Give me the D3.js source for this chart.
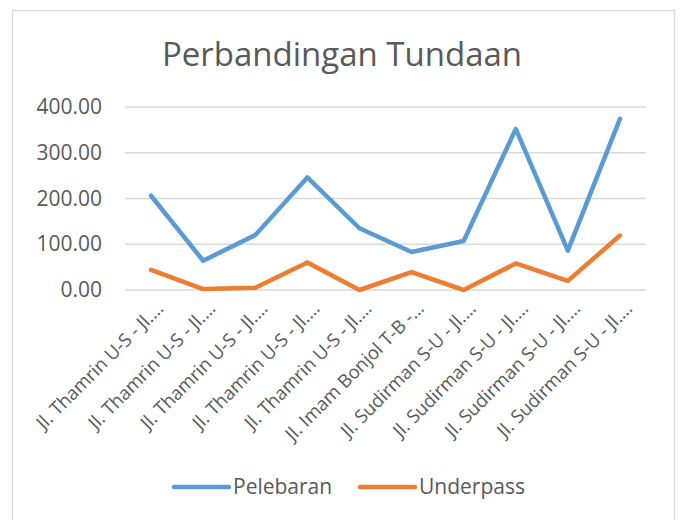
<!DOCTYPE html>
<html lang="id">
<head>
<meta charset="utf-8">
<title>Perbandingan Tundaan</title>
<script src="https://d3js.org/d3.v7.min.js"></script>
<style>
	body { margin: 0; background: #fff; }
	svg { display: block; font-family: "Open Sans", sans-serif; }
	.grid line { stroke: #d9d9d9; stroke-width: 1.3px; }
	.line { fill: none; stroke-width: 4.5px; stroke-linecap: round; stroke-linejoin: round; }
</style>
</head>
<body>
<svg id="chart" width="680" height="520"></svg>
<script>
// data
var categories = [
	"Jl. Thamrin U-S - Jl.…",
	"Jl. Thamrin U-S - Jl.…",
	"Jl. Thamrin U-S - Jl.…",
	"Jl. Thamrin U-S - Jl.…",
	"Jl. Thamrin U-S - Jl.…",
	"Jl. Imam Bonjol T-B -…",
	"Jl. Sudirman S-U - Jl.…",
	"Jl. Sudirman S-U - Jl.…",
	"Jl. Sudirman S-U - Jl.…",
	"Jl. Sudirman S-U - Jl.…"
];
var pelebaran = [206, 64, 120, 246, 135, 83, 107, 352, 86, 374];
var underpass = [44, 2, 5, 60, 0, 39, 0, 58, 20, 119];
var yTicks = [0, 100, 200, 300, 400];

var seriesNames = ["Pelebaran", "Underpass"];
var colors = ["#5b9bd5", "#ed7d31"];

var svg = d3.select("#chart");
var margin = {left: 125, right: 34, top: 107, bottom: 230};
var width = 680 - margin.left - margin.right,
	height = 520 - margin.top - margin.bottom;

// outer frame
svg.append("rect")
	.attr("x", 12.5).attr("y", 10.5)
	.attr("width", 662).attr("height", 520)
	.attr("fill", "#fff").attr("stroke", "#d9d9d9").attr("stroke-width", 1.3);

// title
svg.append("text")
	.attr("x", 342).attr("y", 66)
	.attr("text-anchor", "middle")
	.style("font-size", "33px")
	.style("fill", "#595959")
	.text("Perbandingan Tundaan");

var g = svg.append("g").attr("transform", "translate(" + margin.left + "," + margin.top + ")");

var x = d3.scaleBand().domain(d3.range(categories.length)).range([0, width]);
var y = d3.scaleLinear().domain([0, 400]).range([height, 0]);

// gridlines
g.append("g").attr("class", "grid")
	.selectAll("line").data(yTicks).enter().append("line")
	.attr("x1", 0).attr("x2", width)
	.attr("y1", function (d) { return y(d); })
	.attr("y2", function (d) { return y(d); });

// y axis labels
var yAxis = g.append("g")
	.call(d3.axisLeft(y).tickValues(yTicks).tickSize(0).tickPadding(23).tickFormat(d3.format(".2f")));
yAxis.select(".domain").remove();
yAxis.selectAll("text")
	.style("font-family", "'Open Sans', sans-serif")
	.style("font-size", "21px")
	.style("fill", "#595959");

// x axis labels, rotated
var xAxis = g.append("g")
	.attr("transform", "translate(0," + height + ")")
	.call(d3.axisBottom(x).tickSize(0).tickFormat(function (i) { return categories[i]; }));
xAxis.select(".domain").remove();
xAxis.selectAll("text")
	.style("font-family", "'Open Sans', sans-serif")
	.style("font-size", "18.5px")
	.style("fill", "#595959")
	.attr("text-anchor", "end")
	.attr("dy", "0.35em")
	.attr("transform", "translate(9,15) rotate(-45)")
	.attr("x", 0).attr("y", 0);

// lines
var line = d3.line()
	.x(function (d, i) { return x(i) + x.bandwidth() / 2; })
	.y(function (d) { return y(d); });

[pelebaran, underpass].forEach(function (vals, k) {
	g.append("path")
		.attr("class", "line")
		.attr("d", line(vals))
		.style("stroke", colors[k]);
});

// legend
var legendX = [174, 360];
var legend = svg.selectAll(".legend").data(seriesNames).enter().append("g")
	.attr("class", "legend")
	.attr("transform", function (d, i) { return "translate(" + legendX[i] + ",487)"; });
legend.append("line")
	.attr("x1", 0).attr("x2", 55)
	.attr("stroke", function (d, i) { return colors[i]; })
	.attr("stroke-width", 4.5)
	.attr("stroke-linecap", "round");
legend.append("text")
	.attr("x", 59).attr("dy", "0.35em")
	.style("font-size", "21px")
	.style("fill", "#595959")
	.text(function (d) { return d; });
</script>
</body>
</html>
